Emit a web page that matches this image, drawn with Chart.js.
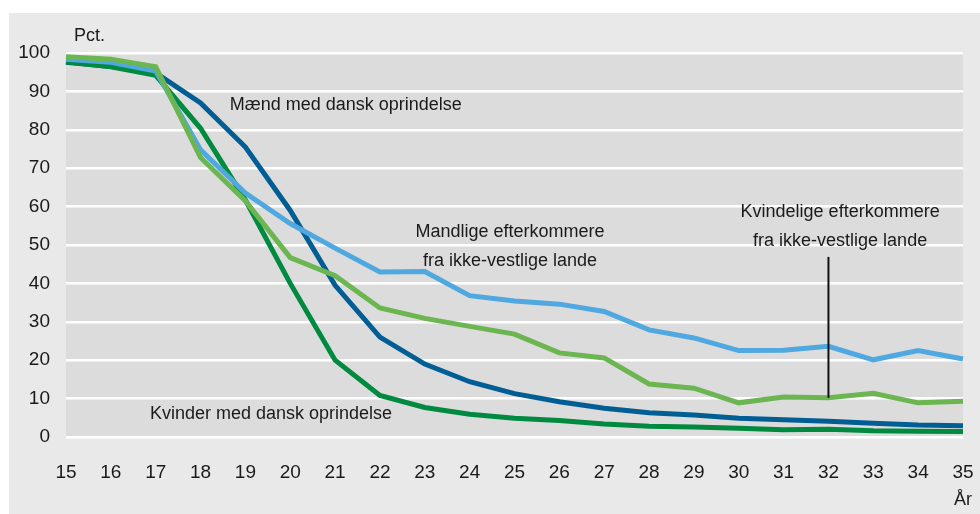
<!DOCTYPE html>
<html>
<head>
<meta charset="utf-8">
<script src="https://cdn.jsdelivr.net/npm/chart.js@4"></script>
<style>
  html, body { margin: 0; padding: 0; background: #ffffff; }
  #wrap { width: 980px; height: 514px; }
</style>
</head>
<body>
<div id="wrap"><canvas id="chart" width="980" height="514"></canvas></div>
<script>

const ages = ["15","16","17","18","19","20","21","22","23","24","25","26","27","28","29","30","31","32","33","34","35"];

const maendDansk = [97.6,96.5,94.8,87,75.5,59,39.5,26,19,14.4,11.3,9.2,7.5,6.3,5.7,4.9,4.5,4.1,3.6,3.1,2.9];
const kvinderDansk = [97.7,96.4,94.2,80.4,61.7,40,20,10.8,7.7,5.9,4.9,4.3,3.4,2.8,2.6,2.3,1.9,2.0,1.6,1.5,1.4];
const mandligeEfterk = [98.4,97.6,95.3,74.8,63.5,55.6,49.2,43,43.1,36.8,35.4,34.6,32.7,27.9,25.8,22.5,22.6,23.6,20.1,22.5,20.3];
const kvindeligeEfterk = [99,98.4,96.4,72.8,61.5,46.7,42,33.6,30.9,28.8,26.8,21.9,20.6,13.8,12.7,8.9,10.4,10.2,11.4,8.9,9.3];

const yTicks = [0,10,20,30,40,50,60,70,80,90,100];

const FONT = "'Liberation Sans', Arial, sans-serif";
const INK = "#1a1a1a";

/* labels placed in data units (age, pct) */
const labels = [
  { lines: ["Mænd med dansk oprindelse"], x: 18.65, y: 86.5, align: "left" },
  { lines: ["Mandlige efterkommere", "fra ikke-vestlige lande"], x: 24.9, y: 53.4, align: "center" },
  { lines: ["Kvindelige efterkommere", "fra ikke-vestlige lande"], x: 32.26, y: 58.6, align: "center" },
  { lines: ["Kvinder med dansk oprindelse"], x: 19.57, y: 6, align: "center" }
];
const pointer = { x: 32, yTop: 46.9, yBottom: 10.2 };

const backgrounds = {
  id: "backgrounds",
  beforeDraw(chart) {
    const ctx = chart.ctx;
    const a = chart.chartArea;
    ctx.save();
    ctx.fillStyle = "#e9e9e9";
    ctx.fillRect(9, 13, chart.width - 9, chart.height - 13);
    ctx.fillStyle = "#dcdcdc";
    ctx.fillRect(a.left, a.top, a.right - a.left, a.bottom - a.top);
    ctx.restore();
  }
};

const annotations = {
  id: "annotations",
  afterDatasetsDraw(chart) {
    const ctx = chart.ctx;
    const xs = chart.scales.x, ys = chart.scales.y;
    const px = v => xs.left + (v - 15) / 20 * (xs.right - xs.left);
    ctx.save();
    ctx.fillStyle = INK;
    ctx.font = "18px " + FONT;
    ctx.textBaseline = "middle";
    labels.forEach(l => {
      ctx.textAlign = l.align;
      l.lines.forEach((t, i) => {
        ctx.fillText(t, px(l.x), ys.getPixelForValue(l.y) + i * 29);
      });
    });
    ctx.strokeStyle = "#111111";
    ctx.lineWidth = 2;
    ctx.beginPath();
    ctx.moveTo(px(pointer.x), ys.getPixelForValue(pointer.yTop));
    ctx.lineTo(px(pointer.x), ys.getPixelForValue(pointer.yBottom));
    ctx.stroke();

    ctx.font = "18px " + FONT;
    ctx.textAlign = "left";
    ctx.fillText("Pct.", chart.chartArea.left + 8, 36);
    ctx.textAlign = "center";
    ctx.fillText("År", chart.chartArea.right, 500);
    ctx.restore();
  }
};

function ds(data, color, order) {
  return {
    data: data,
    borderColor: color,
    backgroundColor: color,
    borderWidth: 5,
    pointRadius: 0,
    tension: 0,
    fill: false,
    order: order
  };
}

new Chart(document.getElementById("chart"), {
  type: "line",
  data: {
    labels: ages,
    datasets: [
      ds(maendDansk, "#005e95", 3),
      ds(kvinderDansk, "#008a3f", 2),
      ds(mandligeEfterk, "#4fa9e0", 1),
      ds(kvindeligeEfterk, "#6bb651", 0)
    ]
  },
  options: {
    responsive: false,
    animation: false,
    layout: { padding: { left: 0, top: 53, right: 17, bottom: 0 } },
    plugins: { legend: { display: false }, tooltip: { enabled: false } },
    scales: {
      x: {
        offset: false,
        grid: { display: false, drawTicks: false },
        border: { display: false },
        ticks: { color: INK, font: { family: FONT, size: 19 }, padding: 24, maxRotation: 0, autoSkip: false },
        afterFit(scale) { scale.height = 77; scale.paddingLeft = 0; scale.paddingRight = 0; }
      },
      y: {
        min: 0,
        max: 100,
        afterBuildTicks(scale) { scale.ticks = yTicks.map(v => ({ value: v })); },
        grid: { color: "#ffffff", lineWidth: 2.5, drawTicks: false },
        border: { display: false },
        ticks: { color: INK, font: { family: FONT, size: 19 }, padding: 16 },
        afterFit(scale) { scale.width = 66; scale.paddingTop = 0; scale.paddingBottom = 0; }
      }
    }
  },
  plugins: [backgrounds, annotations]
});
</script>
</body>
</html>
